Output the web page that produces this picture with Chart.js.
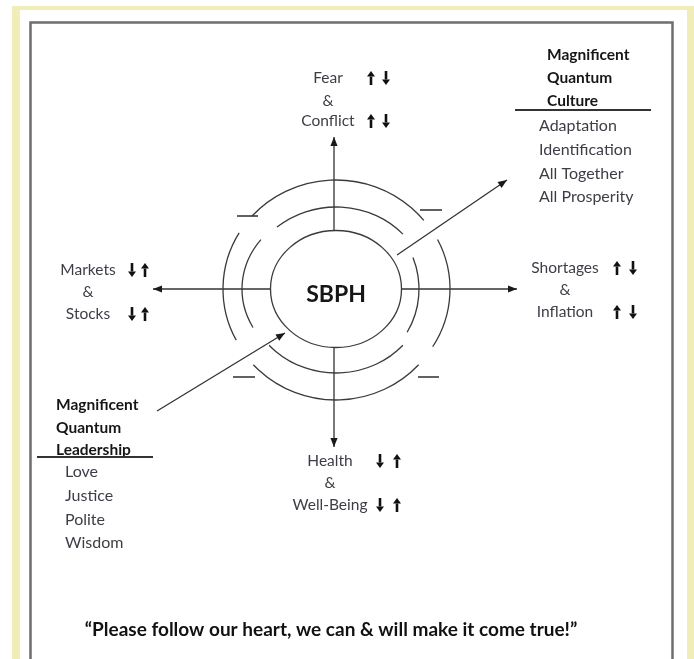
<!DOCTYPE html>
<html>
<head>
<meta charset="utf-8">
<script src="https://cdn.jsdelivr.net/npm/chart.js@4.4.1/dist/chart.umd.min.js"></script>
<style>
  html, body { margin: 0; padding: 0; background: #fff; }
  #wrap { width: 694px; height: 659px; }
</style>
</head>
<body>
<div id="wrap"><canvas id="diagram" width="694" height="659"></canvas></div>
<script>
// ---- text content of the diagram ----
const coreLabel = "SBPH";
const spokeNames = [
  ["Fear", "&", "Conflict"],
  ["Shortages", "&", "Inflation"],
  ["Health", "&", "Well-Being"],
  ["Markets", "&", "Stocks"]
];
// trend arrows beside each label: "up" / "down"
const spokeTrends = [
  [["up", "down"], ["up", "down"]],
  [["up", "down"], ["up", "down"]],
  [["down", "up"], ["down", "up"]],
  [["down", "up"], ["down", "up"]]
];
const cultureTitle = ["Magnificent", "Quantum", "Culture"];
const cultureItems = ["Adaptation", "Identification", "All Together", "All Prosperity"];
const leadershipTitle = ["Magnificent", "Quantum", "Leadership"];
const leadershipItems = ["Love", "Justice", "Polite", "Wisdom"];
const motto = "\u201CPlease follow our heart, we can & will make it come true!\u201D";

// ---- layout (page pixel units, used through the scales) ----
const hub = { x: 336, y: 289, rx: 65.5, ry: 58.5 };
const spokes = [
  [{ x: 334, y: 231 }, { x: 334, y: 137 }],
  [{ x: 402, y: 289 }, { x: 517, y: 289 }],
  [{ x: 334, y: 348 }, { x: 334, y: 447 }],
  [{ x: 271, y: 289 }, { x: 153, y: 289 }],
  [{ x: 397, y: 255 }, { x: 507, y: 180 }],
  [{ x: 157, y: 411 }, { x: 285, y: 333 }]
];
// ring arcs: [rx, ry, startDeg, endDeg]
const rings = [
  [113, 109, -138, -39], [114, 109, -27, 32], [113, 111, 43, 137], [113, 109, 152, 211],
  [90, 82, -131, -42], [83, 84, -22, 31], [90, 84, 42, 138], [94, 82, 152, 217]
];
const ticks = [[237, 258, 216], [420, 442, 210], [233, 255, 377], [418, 439, 377]];
const spokeText = [
  { cx: 328, ys: [78, 101, 121], ax: [371, 386] },
  { cx: 565, ys: [268, 290, 312], ax: [617, 633] },
  { cx: 330, ys: [461, 483, 505], ax: [380, 397] },
  { cx: 88, ys: [270, 292, 314], ax: [132, 145] }
];

const FONT = 'Lato, "Open Sans", sans-serif';

function trendArrow(ctx, x, y, dir) {
  // small bold arrow, about 14px tall
  const s = dir === "up" ? -1 : 1;
  const tip = y + s * 7, base = y - s * 7, neck = tip - s * 5.5;
  ctx.lineWidth = 2.6;
  ctx.beginPath();
  ctx.moveTo(x, base);
  ctx.lineTo(x, neck);
  ctx.stroke();
  ctx.beginPath();
  ctx.moveTo(x, tip);
  ctx.lineTo(x - 4, neck);
  ctx.lineTo(x + 4, neck);
  ctx.closePath();
  ctx.fill();
}

const diagramPlugin = {
  id: "diagram",
  beforeDraw(chart) {
    const { ctx } = chart;
    const sx = chart.scales.x, sy = chart.scales.y;
    const X = v => sx.getPixelForValue(v), Y = v => sy.getPixelForValue(v);
    ctx.save();
    ctx.fillStyle = "#fff";
    ctx.fillRect(0, 0, chart.width, chart.height);
    // yellow outer frame
    ctx.fillStyle = "#f1edb9";
    ctx.fillRect(X(12), Y(6), X(694) - X(12), Y(10) - Y(6));
    ctx.fillRect(X(12), Y(6), X(20) - X(12), Y(659) - Y(6));
    ctx.fillRect(X(687), Y(6), X(694) - X(687), Y(659) - Y(6));
    // gray inner box
    ctx.strokeStyle = "#6e6e6e";
    ctx.lineWidth = 2.5;
    ctx.beginPath();
    ctx.moveTo(X(30.5), Y(659));
    ctx.lineTo(X(30.5), Y(22.5));
    ctx.lineTo(X(672.5), Y(22.5));
    ctx.lineTo(X(672.5), Y(659));
    ctx.stroke();
    ctx.restore();
  },
  afterDatasetsDraw(chart) {
    const { ctx } = chart;
    const sx = chart.scales.x, sy = chart.scales.y;
    const X = v => sx.getPixelForValue(v), Y = v => sy.getPixelForValue(v);
    ctx.save();
    ctx.strokeStyle = "#3a3a3a";
    ctx.lineWidth = 1.3;
    // hub ellipse
    ctx.beginPath();
    ctx.ellipse(X(hub.x), Y(hub.y), hub.rx, hub.ry, 0, 0, Math.PI * 2);
    ctx.stroke();
    // ring arcs
    rings.forEach(([rx, ry, a0, a1]) => {
      ctx.beginPath();
      ctx.ellipse(X(hub.x), Y(hub.y), rx, ry, 0, a0 * Math.PI / 180, a1 * Math.PI / 180);
      ctx.stroke();
    });
    // short dashes
    ctx.lineWidth = 1.6;
    ticks.forEach(([x0, x1, y]) => {
      ctx.beginPath();
      ctx.moveTo(X(x0), Y(y));
      ctx.lineTo(X(x1), Y(y));
      ctx.stroke();
    });
    // arrowheads at spoke ends
    ctx.fillStyle = "#1a1a1a";
    spokes.forEach(([a, b]) => {
      const x1 = X(b.x), y1 = Y(b.y);
      const ang = Math.atan2(y1 - Y(a.y), x1 - X(a.x));
      const len = 9, half = 3.6;
      ctx.beginPath();
      ctx.moveTo(x1, y1);
      ctx.lineTo(x1 - len * Math.cos(ang) + half * Math.sin(ang), y1 - len * Math.sin(ang) - half * Math.cos(ang));
      ctx.lineTo(x1 - len * Math.cos(ang) - half * Math.sin(ang), y1 - len * Math.sin(ang) + half * Math.cos(ang));
      ctx.closePath();
      ctx.fill();
    });

    ctx.textBaseline = "middle";
    // core label
    ctx.fillStyle = "#161616";
    ctx.textAlign = "center";
    ctx.font = "bold 23px " + FONT;
    ctx.fillText(coreLabel, X(336), Y(295));

    // spoke labels with trend arrows
    spokeNames.forEach((lines, i) => {
      const t = spokeText[i];
      ctx.fillStyle = "#3d3d46";
      ctx.textAlign = "center";
      ctx.font = "15.5px " + FONT;
      lines.forEach((s, j) => ctx.fillText(s, X(t.cx), Y(t.ys[j])));
      ctx.fillStyle = "#111";
      ctx.strokeStyle = "#111";
      spokeTrends[i].forEach((pair, j) => {
        const y = j === 0 ? t.ys[0] : t.ys[2];
        trendArrow(ctx, X(t.ax[0]), Y(y), pair[0]);
        trendArrow(ctx, X(t.ax[1]), Y(y), pair[1]);
      });
    });

    // culture block
    ctx.textAlign = "left";
    ctx.fillStyle = "#161616";
    ctx.font = "bold 15.5px " + FONT;
    cultureTitle.forEach((s, j) => ctx.fillText(s, X(547), Y(55 + j * 23)));
    ctx.fillStyle = "#3d3d46";
    ctx.font = "16px " + FONT;
    cultureItems.forEach((s, j) => ctx.fillText(s, X(539), Y(126 + j * 23.7)));
    ctx.strokeStyle = "#333";
    ctx.lineWidth = 1.8;
    ctx.beginPath();
    ctx.moveTo(X(515), Y(110));
    ctx.lineTo(X(651), Y(110));
    ctx.stroke();

    // leadership block
    ctx.fillStyle = "#161616";
    ctx.font = "bold 15.5px " + FONT;
    leadershipTitle.forEach((s, j) => ctx.fillText(s, X(56), Y(405 + j * 22.5)));
    ctx.fillStyle = "#3d3d46";
    ctx.font = "16px " + FONT;
    leadershipItems.forEach((s, j) => ctx.fillText(s, X(65), Y(472 + j * 23.7)));
    ctx.beginPath();
    ctx.moveTo(X(37), Y(457));
    ctx.lineTo(X(153), Y(457));
    ctx.stroke();

    // motto
    ctx.textAlign = "center";
    ctx.fillStyle = "#111";
    ctx.font = "bold 19px " + FONT;
    ctx.fillText(motto, X(331), Y(630));
    ctx.restore();
  }
};

new Chart(document.getElementById("diagram"), {
  type: "scatter",
  data: {
    datasets: spokes.map(seg => ({
      data: seg,
      showLine: true,
      borderColor: "#333",
      borderWidth: 1.3,
      pointRadius: 0,
      fill: false
    }))
  },
  options: {
    responsive: false,
    animation: false,
    devicePixelRatio: 1,
    layout: { padding: 0 },
    plugins: { legend: { display: false }, tooltip: { enabled: false } },
    scales: {
      x: { type: "linear", min: 0, max: 694, display: false },
      y: { type: "linear", min: 0, max: 659, reverse: true, display: false }
    }
  },
  plugins: [diagramPlugin]
});
</script>
</body>
</html>
